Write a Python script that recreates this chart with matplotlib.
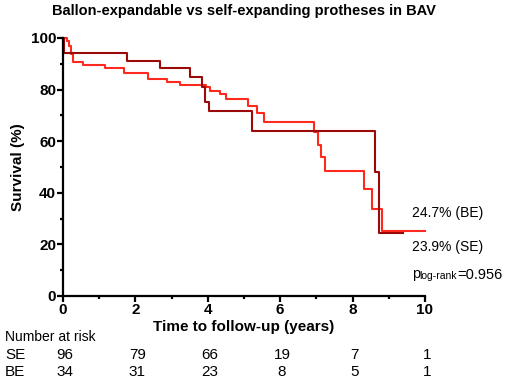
import matplotlib
matplotlib.use("Agg")
import matplotlib.pyplot as plt
from matplotlib.transforms import blended_transform_factory

plt.rcParams["font.family"] = ["Liberation Sans", "DejaVu Sans"]

# Kaplan-Meier steps
se_t = [0, 0.12, 0.17, 0.22, 0.27, 0.56, 1.16, 1.69, 2.34, 2.86, 3.23, 3.94, 4.06,
        4.34, 4.5, 5.12, 5.35, 5.55, 6.94, 7.05, 7.12, 7.24, 8.31, 8.53, 8.8, 10.0]
se_s = [100, 98.9, 96.8, 93.7, 90.8, 89.4, 88.4, 86.3, 84.0, 83.1, 81.8, 80.9, 79.6,
        78.1, 76.4, 73.5, 71.0, 67.6, 63.7, 58.5, 53.7, 48.6, 41.3, 33.6, 25.2, 25.2]
be_t = [0, 0.02, 1.76, 2.68, 3.51, 3.83, 3.93, 4.03, 5.23, 8.62, 8.73, 9.4]
be_s = [100, 94.1, 91.2, 88.2, 84.9, 80.9, 75.3, 71.8, 63.8, 48.2, 24.3, 24.3]

risk_t = [0, 2, 4, 6, 8, 10]
risk_se = [96, 79, 66, 19, 7, 1]
risk_be = [34, 31, 23, 8, 5, 1]

fig = plt.figure(figsize=(5.1, 3.81), dpi=100)
ax = fig.add_axes([0.1235, 0.2231, 0.7098, 0.6772])

ax.step(se_t, se_s, where="post", color="#ff2a1f", lw=1.5, clip_on=False)
ax.step(be_t, be_s, where="post", color="#9b0a0a", lw=1.5, clip_on=False)

ax.set_xlim(0, 10)
ax.set_ylim(0, 100)
ax.set_xticks(range(0, 11, 2))
ax.set_xticks(range(1, 10, 2), minor=True)
ax.set_yticks(range(0, 101, 20))
ax.set_yticks(range(10, 100, 20), minor=True)
for s in ["top", "right"]:
    ax.spines[s].set_visible(False)
for s in ["left", "bottom"]:
    ax.spines[s].set_linewidth(1.6)
ax.tick_params(which="major", length=4, width=1.6, labelsize=11, pad=1)
ax.tick_params(which="minor", length=2.5, width=1.6)
for lab in ax.get_xticklabels() + ax.get_yticklabels():
    lab.set_fontweight("bold")

fig.text(0.478, 0.972, "Ballon-expandable vs self-expanding protheses in BAV",
         fontsize=10.5, fontweight="bold", ha="center", va="center")
ax.set_ylabel("Survival (%)", fontsize=11, fontweight="bold", labelpad=4)
ax.set_xlabel("Time to follow-up (years)", fontsize=11, fontweight="bold", labelpad=2)

ax.text(9.63, 32, "24.7% (BE)", fontsize=10, va="center", clip_on=False)
ax.text(9.63, 19, "23.9% (SE)", fontsize=10, va="center", clip_on=False)
p = ax.text(9.63, 8.5, "p", fontsize=10.5, va="center", clip_on=False)
sub = ax.annotate("log-rank", xy=(1, 0.0), xycoords=p, fontsize=7.5, va="bottom")
ax.annotate("=0.956", xy=(1, -0.1), xycoords=sub, fontsize=10.5, va="bottom")

tr = blended_transform_factory(ax.transData, fig.transFigure)
fig.text(0.01, 0.116, "Number at risk", fontsize=10, va="center")
fig.text(0.01, 0.068, "SE", fontsize=11, va="center")
fig.text(0.01, 0.024, "BE", fontsize=11, va="center")
for t, a, b in zip(risk_t, risk_se, risk_be):
    ax.text(t + 0.05, 0.068, str(a), transform=tr, fontsize=11, ha="center", va="center")
    ax.text(t + 0.05, 0.024, str(b), transform=tr, fontsize=11, ha="center", va="center")

fig.savefig("out.png", dpi=100)
